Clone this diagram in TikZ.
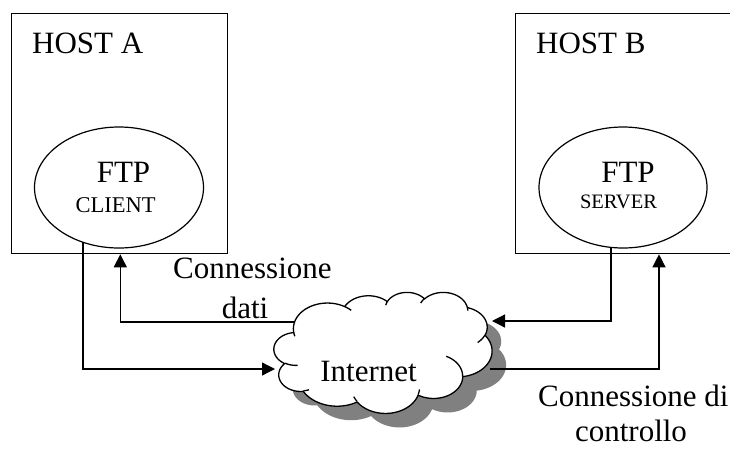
\documentclass[tikz,border=0pt]{standalone}
\usepackage{fontspec}
\setmainfont{Liberation Serif}
\usetikzlibrary{arrows.meta,shapes.geometric}

% Cloud geometry: size of the cloud in pt
\newcommand\cldw{218}
\newcommand\cldh{121}
% append tokens to the path being built
\newcommand\cldappend[1]{%
  \xdef\cldpath{\unexpanded\expandafter{\cldpath}\unexpanded\expandafter{#1}}}
% one elliptical arc continuing from (\cldx,\cldy): x radius, y radius
% (in 1/43200 of the cloud size), start and sweep angle (visual angles
% of the unscaled 43200 x 43200 cloud, degrees, y pointing down)
\newcommand\cldarc[4]{%
  \pgfmathsetmacro\cldrx{#1/432*\cldw/100}%
  \pgfmathsetmacro\cldry{#2/432*\cldh/100}%
  \pgfmathsetmacro\cldpa{atan2(#1/1000*sin(#3),#2/1000*cos(#3))}%
  \pgfmathsetmacro\cldpb{atan2(#1/1000*sin(#3+#4),#2/1000*cos(#3+#4))}%
  \pgfmathsetmacro\cldpe{\cldpa+mod(\cldpb-\cldpa+720,360)}%
  \pgfmathsetmacro\cldcx{\cldx-\cldrx*cos(\cldpa)}%
  \pgfmathsetmacro\cldcy{\cldy-\cldry*sin(\cldpa)}%
  \edef\cldnew{-- plot[domain=\cldpa:\cldpe,samples=32]
    ({\cldcx+\cldrx*cos(\noexpand\x)},{\cldcy+\cldry*sin(\noexpand\x)})}%
  \cldappend\cldnew
  \pgfmathsetmacro\cldx{\cldcx+\cldrx*cos(\cldpe)}%
  \pgfmathsetmacro\cldy{\cldcy+\cldry*sin(\cldpe)}}
% a separate fold line starting at a given point
\newcommand\cldfold[6]{%
  \def\cldx{#1}\def\cldy{#2}%
  \def\cldnew{(#1,#2)}\cldappend\cldnew
  \cldarc{#3}{#4}{#5}{#6}}

\begin{document}
\begin{tikzpicture}[x=1pt,y=-1pt,
  frame/.style={draw, line width=1.3pt, inner sep=0pt, anchor=north west},
  proc/.style={draw, ellipse, line width=1.2pt, fill=white, inner sep=0pt,
    minimum width=169pt, minimum height=121pt},
  big/.style={font=\fontsize{31}{40}\selectfont, inner sep=0pt},
  small/.style={font=\fontsize{22.5}{26}\selectfont, inner sep=0pt},
  smaller/.style={font=\fontsize{20.5}{24}\selectfont, inner sep=0pt},
  link/.style={line width=1.3pt},
  arrowed/.style={-{Triangle[length=13pt,width=13pt]}},
  cloudline/.style={line width=1.3pt, line join=round},
]
\useasboundingbox (0,0) rectangle (730,448);

% outline of the cloud
\gdef\cldpath{}
\def\cldx{293.68}\def\cldy{332.25}
\cldarc{6753}{9190}{-190.4875}{123.7805}
\cldarc{5333}{7267}{-144.1024}{89.9452}
\cldarc{4365}{5945}{-145.8079}{99.7230}
\cldarc{4857}{6595}{-130.9861}{117.2417}
\cldarc{5333}{7273}{-78.7089}{109.0269}
\cldarc{6775}{9220}{-46.2673}{130.2690}
\cldarc{5785}{7867}{0.6250}{114.0333}
\cldarc{6752}{9215}{22.4516}{115.1726}
\cldarc{7720}{10543}{66.2426}{75.7110}
\cldarc{4360}{5918}{-274.9421}{146.7356}
\cldarc{4345}{5945}{-246.8285}{152.5189}
\let\cloudoutline\cldpath
% inner folds of the cloud
\gdef\cldpath{}
\cldfold{297.68}{365.32}{4345}{5945}{86.7420}{26.4295}
\cldfold{308.96}{389.75}{4360}{5918}{73.6105}{11.4475}
\cldfold{357.15}{401.49}{6752}{9215}{137.6242}{14.0811}
\cldfold{419.47}{389.33}{6752}{9215}{6.4533}{15.9984}
\cldfold{446.23}{356.29}{5785}{7867}{-70.2924}{70.9174}
\cldfold{484.92}{335.00}{5333}{7273}{30.3180}{27.7515}
\cldfold{467.39}{307.20}{4857}{6595}{-13.7443}{14.8589}
\cldfold{420.74}{303.07}{4857}{6595}{-149.1815}{18.1954}
\cldfold{385.73}{305.22}{4365}{5945}{-163.4943}{17.6864}
\cldfold{344.65}{306.54}{6753}{9190}{-66.7070}{12.3194}
\cldfold{294.83}{336.22}{6753}{9190}{157.6544}{11.8582}
\let\cloudfolds\cldpath

% hosts
\node[frame, minimum width=216pt, minimum height=240pt] (hostA) at (11,13) {};
\node[frame, minimum width=226pt, minimum height=240pt] (hostB) at (515,13) {};
\node[big, anchor=base west] (tA) at (32,53) {HOST A};
\node[big, anchor=base west] (tB) at (536,53) {HOST B};

% cloud shadow
\fill[black!50, shift={(14,14)}] (293.68,332.25) \cloudoutline -- cycle;

% attachment points on the cloud
\coordinate (cw1) at (296,322);
\coordinate (cw2) at (275,369);
\coordinate (ce1) at (492,321);
\coordinate (ce2) at (490,369);

% ellipse centres (connectors start inside and are covered)
\coordinate (pA) at (119,187.5);
\coordinate (pB) at (623,187.5);

% connectors
\draw[link, arrowed] ([xshift=-36pt]pA) |- (cw2);
\draw[link, arrowed] (cw1) -| ([xshift=-108pt]hostA.south east);
\draw[link, arrowed] ([xshift=-12pt]pB) |- (ce1);
\draw[link, arrowed] (ce2) -| ([xshift=144pt]hostB.south west);

% processes
\node[proc] (eA) at (pA) {};
\node[proc, minimum width=168pt] (eB) at (pB) {};
\node[big, anchor=base] (fA) at (123.5,182) {FTP};
\node[small, anchor=base] (sA) at (115.5,212) {CLIENT};
\node[big, anchor=base] (fB) at (628,182) {FTP};
\node[smaller, anchor=base] (sB) at (618.5,208) {SERVER};

% cloud
\draw[cloudline, fill=white] (293.68,332.25) \cloudoutline -- cycle;
\draw[cloudline] \cloudfolds;
\node[big, anchor=base] (inet) at (368.5,381.7) {Internet};

% labels
\node[big, anchor=base west] (ld1) at (173,278) {Connessione};
\node[big, anchor=base] (ld2) at (245,318) {dati};
\node[big, anchor=base west] (lc1) at (538,406) {Connessione di};
\node[big, anchor=base] (lc2) at (631,441) {controllo};
\end{tikzpicture}
\end{document}
